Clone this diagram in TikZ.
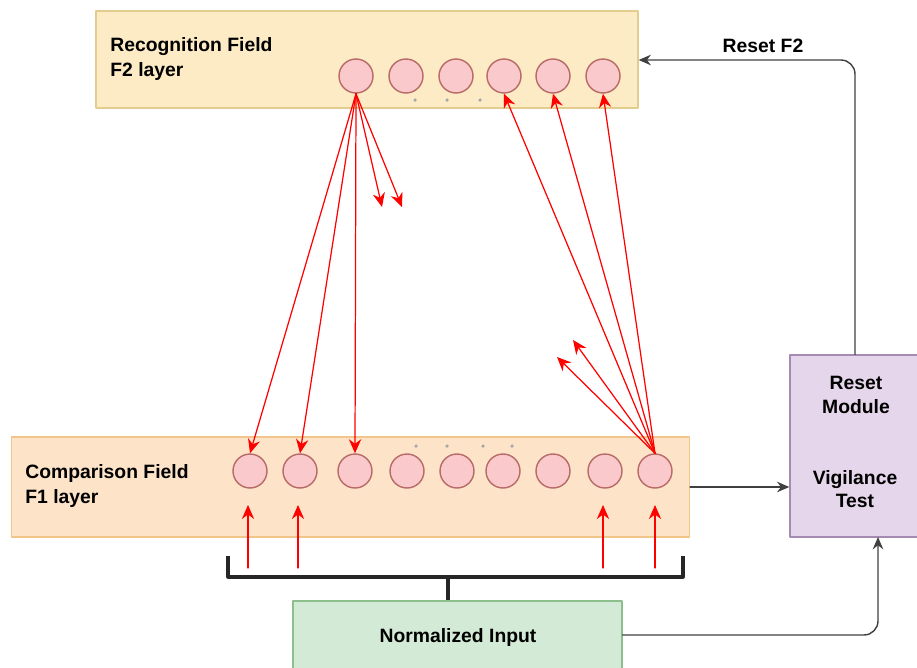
\documentclass[tikz,border=0pt]{standalone}
\usepackage{fontspec}
\setmainfont{Liberation Sans}
\usetikzlibrary{arrows.meta}
\definecolor{fTwoFill}{HTML}{FCEBC4}
\definecolor{fTwoLine}{HTML}{E2CD8E}
\definecolor{fOneFill}{HTML}{FDE3C8}
\definecolor{fOneLine}{HTML}{F2C58A}
\definecolor{cellFill}{HTML}{F9C9CB}
\definecolor{cellLine}{HTML}{B86A66}
\definecolor{inFill}{HTML}{D3EBD6}
\definecolor{inLine}{HTML}{8DBF8C}
\definecolor{resFill}{HTML}{E6D6EC}
\definecolor{resLine}{HTML}{A58AB2}
\tikzset{
  layerbox/.style={draw, line width=0.8pt, minimum width=#1, inner sep=0pt},
  cell/.style={circle, draw=cellLine, fill=cellFill, line width=0.8pt,
    minimum width=0.68cm, minimum height=0.66cm, inner sep=0pt},
  lbl/.style={font=\fontsize{11}{14}\selectfont\bfseries, align=left, anchor=west, inner sep=0pt},
  clbl/.style={font=\fontsize{11}{13.5}\selectfont\bfseries, align=center, inner sep=0pt},
  wt/.style={draw=red, line width=0.7pt, -{Stealth[length=8pt,width=7pt]}},
  blk/.style={draw=black!75, line width=0.8pt, -{Stealth[length=7pt,width=6pt]}},
  tick/.style={circle, fill=gray!70, inner sep=0pt, minimum size=2pt}
}
\begin{document}
\begin{tikzpicture}[x=0.02cm,y=-0.02cm,line cap=round,line join=round]
        \useasboundingbox (0,0) rectangle (917,667);

        % boxes
        \node[layerbox, fill=fTwoFill, draw=fTwoLine, minimum width=10.84cm, minimum height=1.94cm] (f2) at (367,59.5) {};
        \node[layerbox, fill=fOneFill, draw=fOneLine, minimum width=13.56cm, minimum height=2cm] (f1) at (350.5,487) {};
        \node[layerbox, fill=inFill, draw=inLine, minimum width=6.58cm, minimum height=1.6cm] (norm) at (457.5,641) {};
        \node[layerbox, fill=resFill, draw=resLine, minimum width=2.6cm, minimum height=3.64cm] (reset) at (855,446) {};

        % texts
        \node[lbl] (t2) at (110,59) {Recognition Field\\F2 layer};
        \node[lbl] (t1) at (25,486) {Comparison Field\\F1 layer};
        \node[clbl] (tn) at (458,637) {Normalized Input};
        \node[clbl] (tr) at (856,395) {Reset\\Module};
        \node[clbl] (tv) at (855,489) {Vigilance\\Test};
        \node[clbl] (tf) at (763,46) {Reset F2};

        % F2 cells
        \foreach \i/\x in {1/356,2/406,3/456,4/504,5/553,6/603}
          \node[cell] (a\i) at (\x,76) {};
        % F1 cells
        \foreach \i/\x in {1/250,2/300,3/355,4/407,5/457,6/503,7/553,8/605,9/655}
          \node[cell] (b\i) at (\x,471) {};

        % small marks
        \foreach \x in {415,447,480}
          \node[tick] (ua\x) at (\x,100) {};
        \foreach \x in {416,447,483,512}
          \node[tick] (ub\x) at (\x,446) {};

        % top-down weights
        \coordinate (sa1) at (382,207);
        \coordinate (sa2) at (402,207);
        \foreach \j in {1,2,3}
          \draw[wt] (a1.south) -- (b\j.north);
        \draw[wt] (a1.south) -- (sa1);
        \draw[wt] (a1.south) -- (sa2);

        % bottom-up weights
        \coordinate (sb1) at (557,357);
        \coordinate (sb2) at (573,340);
        \foreach \j in {4,5,6}
          \draw[wt] (b9.north) -- (a\j.south);
        \draw[wt] (b9.north) -- (sb1);
        \draw[wt] (b9.north) -- (sb2);

        % input arrows
        \foreach \j/\x in {1/248,2/298,8/603,9/655}
          \draw[wt] (\x,568) coordinate (in\j) -- (in\j |- 0,505);

        % bracket
        \coordinate (bl) at (228,556);
        \coordinate (br) at (683,556);
        \coordinate (bm) at (448,577);
        \draw[black!85, line width=1.8pt, line cap=butt] (bl) -- (bl |- bm) -- (br |- bm) -- (br);
        \draw[black!85, line width=1.8pt, line cap=butt] (bm) -- (bm |- norm.north);

        % control connections
        \draw[blk] (f1.east) -- (reset.west |- f1.east);
        \coordinate (vin) at (878,537);
        \draw[blk, rounded corners=8pt] (norm.east |- 0,635) -- (vin |- 0,635) -- (vin);
        \draw[blk, rounded corners=8pt] (reset.north) -- (reset.north |- 0,60) -- (f2.east |- 0,60);
      \end{tikzpicture}
\end{document}
